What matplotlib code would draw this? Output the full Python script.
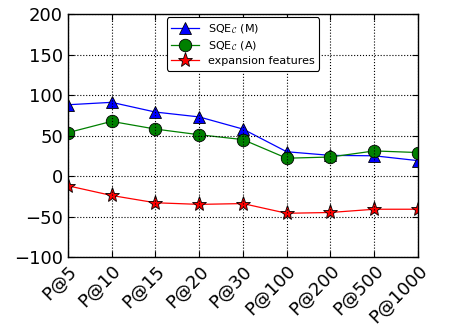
import numpy as np
import matplotlib
matplotlib.use("Agg")
import matplotlib.pyplot as plt

# Data
labels = ["P@5", "P@10", "P@15", "P@20", "P@30", "P@100", "P@200", "P@500", "P@1000"]
sqe_m = [88, 91, 79, 73, 58, 30, 25.5, 25, 19]
sqe_a = [53.5, 67.5, 58, 51, 45, 22, 23.5, 31, 29]
expansion = [-12, -24, -33, -35, -34, -46, -45, -41, -41]

plt.rcParams['mathtext.fontset'] = 'cm'

fig = plt.figure(figsize=(4.49, 3.27), dpi=100)
ax = fig.add_axes([0.151, 0.214, 0.78, 0.743])

x = np.arange(len(labels))
ax.plot(x, sqe_m, color='blue', marker='^', markersize=9, markeredgecolor='black',
        markeredgewidth=0.6, linewidth=0.9, label=r'SQE$_{\mathcal{C}}$ (M)')
ax.plot(x, sqe_a, color='green', marker='o', markersize=9, markeredgecolor='black',
        markeredgewidth=0.6, linewidth=0.9, label=r'SQE$_{\mathcal{C}}$ (A)')
ax.plot(x, expansion, color='red', marker='*', markersize=11, markeredgecolor='black',
        markeredgewidth=0.6, linewidth=0.9, label='expansion features')

ax.set_xlim(0, len(labels) - 1)
ax.set_ylim(-100, 200)
ax.set_yticks([-100, -50, 0, 50, 100, 150, 200])
ax.set_xticks(x)
ax.set_xticklabels(labels, rotation=45, ha='right', rotation_mode='anchor', fontsize=13)
ax.tick_params(axis='y', labelsize=13)
ax.tick_params(direction='in', top=True, right=True, length=4, color='black')
ax.set_axisbelow(False)
ax.grid(True, linestyle=':', color='black', linewidth=0.8, zorder=3)
for s in ax.spines.values():
    s.set_linewidth(1)

leg = ax.legend(loc='upper center', fontsize=8, fancybox=True, framealpha=1,
                edgecolor='black', borderaxespad=0.3, handlelength=2.5,
                numpoints=1, labelspacing=0.3)
leg.get_frame().set_linewidth(0.8)
leg.set_zorder(5)

fig.savefig("out.png", dpi=100)
